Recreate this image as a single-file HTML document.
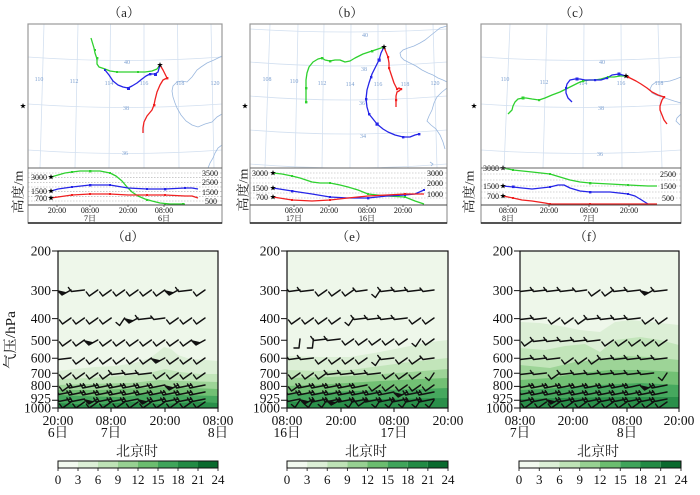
<!DOCTYPE html>
<html><head><meta charset="utf-8">
<style>
html,body{margin:0;padding:0;background:#fff;}
svg{display:block;}
text{font-family:"Liberation Serif","Noto Serif CJK SC","Noto Sans CJK SC",serif;}
.ml{font-family:"Liberation Sans",sans-serif;font-size:6px;fill:#7b9fd0;text-anchor:middle;}
.tl{font-size:8px;fill:#111;}
.ax{font-size:13.5px;fill:#111;}
</style></head><body>
<svg width="700" height="495" viewBox="0 0 700 495" xmlns="http://www.w3.org/2000/svg" xmlns:xlink="http://www.w3.org/1999/xlink">
<defs>
 <clipPath id="ca"><rect x="28" y="24" width="194" height="144"/></clipPath>
 <clipPath id="cb"><rect x="250" y="24" width="197" height="144"/></clipPath>
 <clipPath id="cc"><rect x="481" y="24" width="200" height="144"/></clipPath>
 <clipPath id="cd"><rect x="58" y="251" width="160" height="157"/></clipPath>
 <clipPath id="ce"><rect x="287" y="251" width="161" height="157"/></clipPath>
 <clipPath id="cf"><rect x="520" y="251" width="159" height="157"/></clipPath>
 <path id="C" d="M0,0L-8.5,6L-11.5,2"/>
 <path id="S" d="M0,0L-5,7.5L-8.5,4.5"/>
 <path id="U" d="M0,0L-1,9L-6,9"/>
 <path id="W" d="M0,0L-11,1.5L-14,-2"/>
 <path id="W2" d="M0,0L-13,1.5L-16,-2.5"/>
 <path id="L" d="M0,0L-15,3L-17.5,-1M-12,2.4L-14.5,-1.4"/>
 <path id="K" d="M0,0L-9,5L-13,1L-5,2.8Z" fill="#111"/>
 <path id="st" d="M0,-3L0.7,-1L2.9,-0.9L1.1,0.4L1.8,2.4L0,1.2L-1.8,2.4L-1.1,0.4L-2.9,-0.9L-0.7,-1Z" fill="#000"/>
</defs>

<!-- ================= TITLES ================= -->
<g font-size="13" text-anchor="middle" fill="#222">
 <text x="124" y="17">（a）</text>
 <text x="347" y="17">（b）</text>
 <text x="575" y="17">（c）</text>
 <text x="128" y="241">（d）</text>
 <text x="352" y="241">（e）</text>
 <text x="589" y="241">（f）</text>
</g>

<use href="#st" x="23" y="106"/>
<use href="#st" x="245" y="106"/>
<use href="#st" x="474" y="106"/>

<g font-size="13" text-anchor="middle" fill="#222">
 <text transform="translate(22.5,192) rotate(-90)" textLength="43" lengthAdjust="spacingAndGlyphs">高度/m</text>
 <text transform="translate(247.5,190) rotate(-90)" textLength="43" lengthAdjust="spacingAndGlyphs">高度/m</text>
 <text transform="translate(473.5,192) rotate(-90)" textLength="43" lengthAdjust="spacingAndGlyphs">高度/m</text>
</g>

<!-- ================= PANEL A MAP ================= -->
<g clip-path="url(#ca)" fill="none">
 <g stroke="#d3e0f0" stroke-width="0.8">
  <path d="M44,24L40,168M78,24L75,168M110.5,24L109,168M144,24L144,168M177.5,24L179,168M211,24L214,168"/>
  <path d="M28,57Q125,64 222,57M28,104Q125,111 222,104M28,150Q125,157 222,150"/>
 </g>
 <g stroke="#9bb8de" stroke-width="0.8">
  <path d="M222,56L214,60L207,63L201,67L197,70L192,77L187,82L182,81L177,82L173,86L172,91L173,97L175,103L177,108L181,115L186,121L192,125L198,127L205,124L212,122L217,117L222,114"/>
  <path d="M222,145L218,148L215,153L213,158L210,163L208,168"/>
 </g>
</g>
<g class="ml">
 <text x="127" y="64">40</text><text x="39" y="81">110</text><text x="74" y="83">112</text><text x="109" y="85">114</text><text x="144" y="85">116</text><text x="180" y="85">118</text><text x="215" y="85">120</text><text x="126" y="110">38</text><text x="125" y="155">36</text>
</g>
<g fill="none" stroke-width="1.3" stroke-linejoin="round">
 <polyline stroke="#2ed12e" points="160,65 157,69 152,71 145,72 138,72 128,72 117,72 110,71 105,69 99,67 97,64 97,59 95,53 94,48 91,38"/>
 <polyline stroke="#2525e8" points="160,65 158,72 155,74 150,74 146,76 142,79 137,83 132,86 128,88 123,87 118,85 113,81 109,75 105,70"/>
 <polyline stroke="#f02020" points="160,65 163,70 167,78 163,80 160,85 157,92 155,100 154,105 152,110 147,116 144,122 143,128 143,133"/>
</g>
<g fill="#2ed12e"><rect x="137" y="71" width="2" height="2"/><rect x="116" y="71" width="2" height="2"/><rect x="96" y="57" width="2.4" height="2.4"/><rect x="94" y="49" width="2" height="2"/></g>
<g fill="#2525e8"><rect x="154" y="73" width="3" height="3"/><rect x="149" y="73" width="2.4" height="2.4"/><rect x="127" y="87" width="3" height="3"/><rect x="104" y="69" width="2" height="2"/></g>
<g fill="#f02020"><rect x="166" y="77" width="2.4" height="2.4"/><rect x="153" y="104" width="2.4" height="2.4"/></g>
<use href="#st" x="160" y="65"/>

<!-- ================= PANEL B MAP ================= -->
<g clip-path="url(#cb)" fill="none">
 <g stroke="#d3e0f0" stroke-width="0.8">
  <path d="M270,24L265,168M298,24L295,168M324,24L322,168M351,24L350,168M378,24L378,168M406,24L408,168M433,24L437,168"/>
  <path d="M250,29Q348,35 447,29M250,62Q348,70 447,62M250,96Q348,104 447,96M250,130Q348,138 447,130M250,164Q348,172 447,164"/>
 </g>
 <g stroke="#9bb8de" stroke-width="0.8">
  <path d="M447,26L440,28L435,32L430,36L425,40L420,43L414,46L408,48L403,50L400,53L401,57L404,60L410,63L416,66L422,70L428,73L433,75L438,78L443,80L447,82"/>
  <path d="M447,88L442,92L437,97L434,103L432,110L429,116L427,121L431,125L436,129L440,135L443,142L445,149"/>
  <path d="M430,162L433,164L431,166"/>
 </g>
</g>
<g class="ml">
 <text x="365" y="37">40</text><text x="364" y="71">38</text><text x="362" y="105">36</text><text x="363" y="138">34</text>
 <text x="267" y="81">108</text><text x="294" y="83">110</text><text x="322" y="85">112</text><text x="350" y="86">114</text><text x="378" y="86">116</text><text x="405" y="86">118</text><text x="435" y="85">120</text>
</g>
<g fill="none" stroke-width="1.3" stroke-linejoin="round">
 <polyline stroke="#2ed12e" points="384,47 378,49 372,51 363,54 355,58 350,61 345,62 340,60 335,60 330,61 325,60 322,58 318,59 313,62 309,67 307,73 306,80 306,88 306,95 306,102"/>
 <polyline stroke="#2525e8" points="384,47 381,53 379,60 377,64 375,68 372,74 371,77 369,83 367,90 366,99 367,107 369,114 373,119 377,124 383,129 388,132 395,135 403,137 410,137 415,135 419,134"/>
 <polyline stroke="#f02020" points="384,47 386,52 388,57 389,63 389,68 391,74 392,77 394,83 397,89 399,88 401,89 399,91 397,92 396,96 396,100 396,107"/>
</g>
<g fill="#2ed12e"><rect x="371" y="50" width="2.4" height="2.4"/><rect x="329" y="60" width="2.4" height="2.4"/><rect x="321" y="57" width="2.4" height="2.4"/><rect x="305" y="87" width="2.4" height="2.4"/><rect x="305" y="101" width="2.4" height="2.4"/></g>
<g fill="#2525e8"><rect x="377.5" y="58.5" width="3.2" height="3.2"/><rect x="370" y="76" width="2.4" height="2.4"/><rect x="365" y="98" width="2.4" height="2.4"/><rect x="368" y="113" width="2.4" height="2.4"/><rect x="375.5" y="122.5" width="3.2" height="3.2"/><rect x="402" y="136" width="2.4" height="2.4"/><rect x="418" y="133" width="2.4" height="2.4"/></g>
<g fill="#f02020"><rect x="387" y="56" width="2.2" height="2.2"/><rect x="388" y="67" width="2.2" height="2.2"/><rect x="396" y="88" width="2.2" height="2.2"/><rect x="400" y="88" width="2.2" height="2.2"/><rect x="395" y="99" width="2.2" height="2.2"/></g>
<use href="#st" x="384" y="47"/>

<!-- ================= PANEL C MAP ================= -->
<g clip-path="url(#cc)" fill="none">
 <g stroke="#d3e0f0" stroke-width="0.8">
  <path d="M510,24L504,168M547,24L543,168M584,24L583,168M621,24L622,168M658,24L662,168"/>
  <path d="M481,57Q581,64 681,57M481,104Q581,111 681,104M481,150Q581,157 681,150"/>
 </g>
 <g stroke="#9bb8de" stroke-width="0.8">
  <path d="M681,77L676,79L670,81L663,82L656,82L652,85L650,89L652,93L656,95L662,97L668,99L674,101L681,103"/>
  <path d="M681,114L677,118L676,121L680,125"/>
 </g>
</g>
<g class="ml">
 <text x="602" y="64">40</text><text x="601" y="110">38</text><text x="600" y="156">36</text>
 <text x="505" y="81">110</text><text x="544" y="84">112</text><text x="583" y="85">114</text><text x="621" y="85">116</text><text x="659" y="85">118</text>
</g>
<g fill="none" stroke-width="1.3" stroke-linejoin="round">
 <polyline stroke="#2ed12e" points="626,76 620,76 614,77 608,77 601,79 595,80 589,80 583,81 578,83 572,86 566,89 560,92 552,95 545,98 539,100 532,99 526,98 523,98 518,99 515,102 513,106 512,110 510,112 508,114"/>
 <polyline stroke="#2525e8" points="626,76 619,74 612,75 607,78 601,80 595,80 590,80 585,80 580,79 575,79 570,80 567,84 566,88 566,93 568,98 572,102"/>
 <polyline stroke="#f02020" points="626,76 630,78 636,81 641,84 647,88 652,92 658,95 664,97 662,100 660,106 660,110 662,115 664,120 667,124"/>
</g>
<g fill="#2ed12e"><rect x="607" y="76" width="2.2" height="2.2"/><rect x="582" y="80" width="2.2" height="2.2"/><rect x="538" y="99" width="2.2" height="2.2"/><rect x="521.5" y="96.5" width="3" height="3"/></g>
<g fill="#2525e8"><rect x="617.5" y="72.5" width="3" height="3"/><rect x="606" y="77" width="2.2" height="2.2"/><rect x="594" y="79" width="2.2" height="2.2"/><rect x="575.5" y="77.5" width="3" height="3"/><rect x="565" y="87" width="2.2" height="2.2"/></g>
<g fill="#f02020"><rect x="627" y="76" width="2.2" height="2.2"/><rect x="663" y="96" width="2.2" height="2.2"/></g>
<use href="#st" x="626" y="76"/>

<!-- ================= HEIGHT PANELS ================= -->
<g stroke="#aaa" stroke-width="0.6" stroke-dasharray="1.5,1.5">
 <path d="M28,173H222M28,177.7H222M28,182.3H222M28,187H222M28,191.7H222M28,196.3H222M28,201H222"/>
 <path d="M250,173H447M250,178H447M250,183H447M250,188H447M250,193H447M250,198H447"/>
 <path d="M481,174H681M481,180H681M481,186H681M481,192H681M481,198H681"/>
</g>
<g fill="none" stroke-width="1.3" stroke-linejoin="round">
 <polyline stroke="#2ed12e" points="51,177 58,175 65,173 72,172 80,171 90,171 100,171 110,173 116,176 122,181 127,187 132,192 138,196 145,199 152,201 160,203 170,204 185,204"/>
 <polyline stroke="#2525e8" points="51,191 58,189 65,188 72,187 90,185 110,185 128,188 147,189 165,189 185,188 192,188 198,189"/>
 <polyline stroke="#f02020" points="51,198 58,197 65,196 72,195 90,194 110,194 128,195 147,195 165,195 185,196 192,196 198,198"/>
 <polyline stroke="#2ed12e" points="273,173 282,174 292,176 300,178 312,182 320,183 330,183 340,185 348,187 358,190 368,194 387,196 405,197 410,199 415,201 424,204"/>
 <polyline stroke="#2525e8" points="273,188 292,191 312,194 330,197 348,198 368,198 387,196 405,195 415,194 424,190"/>
 <polyline stroke="#f02020" points="273,197 292,200 312,201 330,200 348,198 368,196 387,195 405,194 424,194"/>
 <polyline stroke="#2ed12e" points="503,168 513,170 532,172 550,174 560,177 570,180 580,182 590,183 610,184 628,185 648,186 657,186"/>
 <polyline stroke="#2525e8" points="503,186 513,187 522,188 532,189 541,188 550,187 558,185 564,185 570,188 580,191 590,192 610,192 628,194 635,196 640,199 648,204"/>
 <polyline stroke="#f02020" points="503,196 513,198 522,200 532,201 545,203 550,204 570,204 590,204 610,204 628,204 657,204"/>
</g>
<g fill="#2ed12e"><rect x="71" y="171" width="2" height="2"/><rect x="89" y="170" width="2.4" height="2.4"/><rect x="109" y="172" width="2" height="2"/><rect x="146" y="199" width="2" height="2"/><rect x="164" y="203" width="2" height="2"/><rect x="182" y="203" width="2" height="2"/>
 <rect x="291" y="175" width="2" height="2"/><rect x="329" y="182" width="2" height="2"/><rect x="367" y="193" width="2" height="2"/><rect x="404" y="196" width="2" height="2"/>
 <rect x="512" y="169" width="2" height="2"/><rect x="549" y="173" width="2" height="2"/><rect x="589" y="182" width="2.4" height="2.4"/><rect x="627" y="184" width="2" height="2"/></g>
<g fill="#2525e8"><rect x="71" y="186" width="2" height="2"/><rect x="89" y="184" width="2.4" height="2.4"/><rect x="109" y="184" width="2" height="2"/><rect x="146" y="188" width="2" height="2"/><rect x="164" y="188" width="2.4" height="2.4"/><rect x="184" y="187" width="2" height="2"/>
 <rect x="291" y="190" width="2.4" height="2.4"/><rect x="329" y="196" width="2" height="2"/><rect x="367" y="197" width="2.4" height="2.4"/><rect x="404" y="194" width="2" height="2"/><rect x="423" y="189" width="2" height="2"/>
 <rect x="512" y="185.5" width="2.6" height="2.6"/><rect x="549" y="186" width="2" height="2"/><rect x="589" y="191" width="2.4" height="2.4"/><rect x="627" y="193" width="2" height="2"/></g>
<g fill="#f02020"><rect x="71" y="194" width="2" height="2"/><rect x="89" y="193" width="2" height="2"/><rect x="109" y="193" width="2" height="2"/><rect x="146" y="194" width="2" height="2"/><rect x="164" y="194" width="2" height="2"/>
 <rect x="291" y="199" width="2" height="2"/><rect x="329" y="199" width="2" height="2"/><rect x="404" y="193" width="2" height="2"/>
 <rect x="512" y="197" width="2" height="2"/><rect x="549" y="203" width="2" height="2"/><rect x="589" y="203" width="2" height="2"/></g>
<g>
 <use href="#st" x="51" y="177"/><use href="#st" x="51" y="191"/><use href="#st" x="51" y="198"/>
 <use href="#st" x="273" y="173"/><use href="#st" x="273" y="188"/><use href="#st" x="273" y="197"/>
 <use href="#st" x="503" y="168"/><use href="#st" x="503" y="186"/><use href="#st" x="503" y="196"/>
</g>

<g class="tl" text-anchor="end">
 <text x="47" y="180">3000</text><text x="47" y="194">1500</text><text x="47" y="201">700</text>
 <text x="268" y="176">3000</text><text x="268" y="191">1500</text><text x="268" y="200">700</text>
 <text x="499" y="171">3000</text><text x="499" y="189">1500</text><text x="499" y="199">700</text>
</g>
<g class="tl" text-anchor="start">
 <text x="202" y="176">3500</text><text x="202" y="185">2500</text><text x="202" y="195">1500</text><text x="205" y="204">500</text>
 <text x="427" y="176">3000</text><text x="427" y="186">2000</text><text x="427" y="197">1000</text>
 <text x="660" y="177">2500</text><text x="660" y="189">1500</text><text x="662" y="201">500</text>
</g>
<g class="tl" text-anchor="middle">
 <text x="57" y="213">20:00</text><text x="90" y="213">08:00</text><text x="128" y="213">20:00</text><text x="164" y="213">08:00</text>
 <text x="90" y="221">7日</text><text x="164" y="221">6日</text>
 <text x="294" y="213">08:00</text><text x="329" y="213">20:00</text><text x="367" y="213">08:00</text><text x="403" y="213">20:00</text>
 <text x="294" y="221">17日</text><text x="367" y="221">16日</text>
 <text x="508" y="213">08:00</text><text x="549" y="213">20:00</text><text x="589" y="213">08:00</text><text x="629" y="213">20:00</text>
 <text x="508" y="221">8日</text><text x="589" y="221">7日</text>
</g>

<g fill="none">
 <rect x="28" y="24" width="194" height="199" stroke="#999" stroke-width="1.2"/>
 <rect x="250" y="24" width="197" height="199" stroke="#999" stroke-width="1.2"/>
 <rect x="481" y="24" width="200" height="199" stroke="#999" stroke-width="1.2"/>
 <path d="M28,168H222M250,168H447M481,168H681" stroke="#666" stroke-width="1"/>
 <path d="M28,205H222M250,205H447M481,205H681" stroke="#444" stroke-width="1"/>
 <path d="M28,223H222M250,223H447M481,223H681" stroke="#222" stroke-width="1.4"/>
 <path d="M57,205v2M90,205v2M128,205v2M164,205v2M294,205v2M329,205v2M367,205v2M403,205v2M508,205v2M549,205v2M589,205v2M629,205v2" stroke="#444" stroke-width="0.8"/>
</g>

<!-- ================= PANEL D ================= -->
<g clip-path="url(#cd)">
 <rect x="58" y="251" width="160" height="157" fill="#eef7ea"/>
 <path fill="#dcefd6" d="M58,408L58,371L75,369L95,367L115,366L135,363L150,358L158,352L164,347L171,349L178,355L190,359L205,360L218,361L218,408Z"/>
 <path fill="#c2e5ba" d="M58,408L58,379L90,378L120,376L145,374L165,369L180,372L200,374L218,374L218,408Z"/>
 <path fill="#9dd497" d="M58,408L58,385L90,384L130,383L160,380L180,381L218,382L218,408Z"/>
 <path fill="#72c074" d="M58,408L58,390L100,390L140,388L170,387L218,389L218,408Z"/>
 <path fill="#46a85e" d="M58,408L58,395L80,396L120,397L150,394L180,395L218,396L218,408Z"/>
 <path fill="#2a8f4a" d="M58,408L58,403L90,405L130,402L160,404L200,402L218,403L218,408Z"/>
 <g stroke="#111" stroke-width="1.45" fill="none" stroke-linejoin="round" stroke-linecap="round">
  <g transform="translate(0,290)"><use href="#K" x="71"/><use href="#W2" x="84.4"/><use href="#C" x="97.8"/><use href="#C" x="111.2"/><use href="#C" x="124.6"/><use href="#C" x="138"/><use href="#C" x="151.4"/><use href="#C" x="164.8"/><use href="#K" x="178.2"/><use href="#W2" x="191.6"/><use href="#C" x="205"/></g>
  <g transform="translate(0,318)"><use href="#C" x="71"/><use href="#C" x="84.4"/><use href="#C" x="97.8"/><use href="#C" x="111.2"/><use href="#S" x="124.6"/><use href="#K" x="138"/><use href="#W2" x="151.4"/><use href="#W" x="164.8"/><use href="#C" x="178.2"/><use href="#C" x="191.6"/><use href="#C" x="205"/></g>
  <g transform="translate(0,340)"><use href="#C" x="71"/><use href="#C" x="84.4"/><use href="#K" x="97.8"/><use href="#C" x="111.2"/><use href="#C" x="124.6"/><use href="#C" x="138"/><use href="#C" x="151.4"/><use href="#C" x="164.8"/><use href="#C" x="178.2"/><use href="#C" x="191.6"/><use href="#K" x="205"/></g>
  <g transform="translate(0,358)"><use href="#W2" x="71"/><use href="#C" x="84.4"/><use href="#C" x="97.8"/><use href="#C" x="111.2"/><use href="#C" x="124.6"/><use href="#C" x="138"/><use href="#C" x="151.4"/><use href="#K" x="164.8"/><use href="#C" x="178.2"/><use href="#C" x="191.6"/><use href="#C" x="205"/></g>
  <g transform="translate(0,373)"><use href="#C" x="71"/><use href="#C" x="84.4"/><use href="#C" x="97.8"/><use href="#C" x="111.2"/><use href="#W2" x="124.6"/><use href="#W2" x="138"/><use href="#W2" x="151.4"/><use href="#C" x="164.8"/><use href="#C" x="178.2"/><use href="#C" x="191.6"/><use href="#C" x="205"/></g>
  <g transform="translate(0,385)"><use href="#C" x="71"/><use href="#L" x="84.4"/><use href="#L" x="97.8"/><use href="#L" x="111.2"/><use href="#L" x="124.6"/><use href="#L" x="138"/><use href="#L" x="151.4"/><use href="#L" x="164.8"/><use href="#K" x="178.2"/><use href="#L" x="191.6"/><use href="#L" x="205"/></g>
  <g transform="translate(0,392)"><use href="#L" x="71"/><use href="#L" x="84.4"/><use href="#L" x="97.8"/><use href="#L" x="111.2"/><use href="#L" x="124.6"/><use href="#L" x="138"/><use href="#L" x="151.4"/><use href="#L" x="164.8"/><use href="#L" x="178.2"/><use href="#L" x="191.6"/><use href="#L" x="205"/></g>
  <g transform="translate(0,399)"><use href="#L" x="71"/><use href="#L" x="84.4"/><use href="#K" x="97.8"/><use href="#L" x="111.2"/><use href="#L" x="124.6"/><use href="#L" x="138"/><use href="#K" x="151.4"/><use href="#L" x="164.8"/><use href="#L" x="178.2"/><use href="#L" x="191.6"/><use href="#L" x="205"/></g>
  <g transform="translate(0,402)"><use href="#C" x="71"/><use href="#C" x="84.4"/><use href="#C" x="97.8"/><use href="#C" x="111.2"/><use href="#C" x="124.6"/><use href="#C" x="138"/><use href="#C" x="151.4"/><use href="#C" x="164.8"/><use href="#C" x="178.2"/><use href="#C" x="191.6"/><use href="#C" x="205"/></g>
 </g>
</g>
<rect x="58" y="251" width="160" height="157" fill="none" stroke="#111" stroke-width="1.2"/>

<!-- ================= PANEL E ================= -->
<g clip-path="url(#ce)">
 <rect x="287" y="251" width="161" height="157" fill="#eef7ea"/>
 <path fill="#dcefd6" d="M287,408L287,356L320,357L350,357L380,352L410,346L430,342L448,340L448,408Z"/>
 <path fill="#c2e5ba" d="M287,408L287,370L320,371L350,370L380,366L410,362L448,358L448,408Z"/>
 <path fill="#9dd497" d="M287,408L287,378L330,377L370,375L410,372L448,369L448,408Z"/>
 <path fill="#72c074" d="M287,408L287,386L330,384L380,381L420,379L448,378L448,408Z"/>
 <path fill="#46a85e" d="M287,408L287,394L330,392L380,390L420,389L448,388L448,408Z"/>
 <path fill="#2a8f4a" d="M287,408L287,402L330,401L380,399L448,398L448,408Z"/>
 <g stroke="#111" stroke-width="1.45" fill="none" stroke-linejoin="round" stroke-linecap="round">
  <g transform="translate(0,290)"><use href="#W" x="300"/><use href="#W2" x="313.4"/><use href="#C" x="326.8"/><use href="#C" x="340.2"/><use href="#C" x="353.6"/><use href="#W" x="367"/><use href="#S" x="380.4"/><use href="#W2" x="393.8"/><use href="#W2" x="407.2"/><use href="#W2" x="420.6"/><use href="#W" x="434"/></g>
  <g transform="translate(0,318)"><use href="#C" x="300"/><use href="#C" x="313.4"/><use href="#C" x="326.8"/><use href="#C" x="340.2"/><use href="#S" x="353.6"/><use href="#W2" x="367"/><use href="#W2" x="380.4"/><use href="#W2" x="393.8"/><use href="#W2" x="407.2"/><use href="#C" x="420.6"/><use href="#C" x="434"/></g>
  <g transform="translate(0,339)"><use href="#U" x="300"/><use href="#U" x="313.4"/><use href="#W2" x="326.8"/><use href="#W2" x="340.2"/><use href="#C" x="353.6"/><use href="#C" x="367"/><use href="#C" x="380.4"/><use href="#C" x="393.8"/><use href="#C" x="407.2"/><use href="#S" x="420.6"/><use href="#C" x="434"/></g>
  <g transform="translate(0,358)"><use href="#W" x="300"/><use href="#W2" x="313.4"/><use href="#C" x="326.8"/><use href="#C" x="340.2"/><use href="#C" x="353.6"/><use href="#C" x="367"/><use href="#S" x="380.4"/><use href="#W2" x="393.8"/><use href="#C" x="407.2"/><use href="#C" x="420.6"/><use href="#W" x="434"/></g>
  <g transform="translate(0,373)"><use href="#C" x="300"/><use href="#C" x="313.4"/><use href="#C" x="326.8"/><use href="#W2" x="340.2"/><use href="#W2" x="353.6"/><use href="#W2" x="367"/><use href="#W2" x="380.4"/><use href="#C" x="393.8"/><use href="#C" x="407.2"/><use href="#C" x="420.6"/><use href="#S" x="434"/></g>
  <g transform="translate(0,385)"><use href="#C" x="300"/><use href="#L" x="313.4"/><use href="#L" x="326.8"/><use href="#L" x="340.2"/><use href="#L" x="353.6"/><use href="#L" x="367"/><use href="#C" x="380.4"/><use href="#C" x="393.8"/><use href="#C" x="407.2"/><use href="#C" x="420.6"/><use href="#C" x="434"/></g>
  <g transform="translate(0,392)"><use href="#L" x="300"/><use href="#L" x="313.4"/><use href="#L" x="326.8"/><use href="#L" x="340.2"/><use href="#L" x="353.6"/><use href="#L" x="367"/><use href="#L" x="380.4"/><use href="#L" x="393.8"/><use href="#K" x="407.2"/><use href="#L" x="420.6"/><use href="#L" x="434"/></g>
  <g transform="translate(0,399)"><use href="#L" x="300"/><use href="#K" x="313.4"/><use href="#L" x="326.8"/><use href="#L" x="340.2"/><use href="#L" x="353.6"/><use href="#L" x="367"/><use href="#L" x="380.4"/><use href="#L" x="393.8"/><use href="#L" x="407.2"/><use href="#L" x="420.6"/><use href="#L" x="434"/></g>
  <g transform="translate(0,400)"><use href="#S" x="300"/><use href="#S" x="313.4"/><use href="#S" x="326.8"/><use href="#K" x="340.2"/><use href="#S" x="353.6"/><use href="#C" x="367"/><use href="#S" x="380.4"/><use href="#S" x="393.8"/><use href="#S" x="407.2"/><use href="#S" x="420.6"/><use href="#S" x="434"/></g>
 </g>
</g>
<rect x="287" y="251" width="161" height="157" fill="none" stroke="#111" stroke-width="1.2"/>

<!-- ================= PANEL F ================= -->
<g clip-path="url(#cf)">
 <rect x="520" y="251" width="159" height="157" fill="#eef7ea"/>
 <path fill="#dcefd6" d="M520,408L520,322L540,323L560,326L580,330L600,332L615,322L630,320L650,322L679,325L679,408Z"/>
 <path fill="#c2e5ba" d="M520,408L520,348L545,350L565,346L585,344L600,352L615,340L640,337L660,340L679,345L679,408Z"/>
 <path fill="#9dd497" d="M520,408L520,365L550,368L575,362L600,360L625,356L650,357L679,360L679,408Z"/>
 <path fill="#72c074" d="M520,408L520,380L550,378L580,373L610,370L640,370L679,372L679,408Z"/>
 <path fill="#46a85e" d="M520,408L520,390L560,388L600,385L640,383L679,385L679,408Z"/>
 <path fill="#2a8f4a" d="M520,408L520,399L560,398L620,397L679,397L679,408Z"/>
 <g stroke="#111" stroke-width="1.45" fill="none" stroke-linejoin="round" stroke-linecap="round">
  <g transform="translate(0,290)"><use href="#W2" x="533"/><use href="#W2" x="546.4"/><use href="#W2" x="559.8"/><use href="#W2" x="573.2"/><use href="#W" x="586.6"/><use href="#C" x="600"/><use href="#C" x="613.4"/><use href="#W2" x="626.8"/><use href="#W2" x="640.2"/><use href="#K" x="653.6"/><use href="#W2" x="667"/></g>
  <g transform="translate(0,318)"><use href="#W2" x="533"/><use href="#W2" x="546.4"/><use href="#C" x="559.8"/><use href="#C" x="573.2"/><use href="#C" x="586.6"/><use href="#W2" x="600"/><use href="#W2" x="613.4"/><use href="#W2" x="626.8"/><use href="#W2" x="640.2"/><use href="#C" x="653.6"/><use href="#C" x="667"/></g>
  <g transform="translate(0,340)"><use href="#C" x="533"/><use href="#W2" x="546.4"/><use href="#W2" x="559.8"/><use href="#W2" x="573.2"/><use href="#W2" x="586.6"/><use href="#W2" x="600"/><use href="#C" x="613.4"/><use href="#C" x="626.8"/><use href="#C" x="640.2"/><use href="#C" x="653.6"/><use href="#C" x="667"/></g>
  <g transform="translate(0,358)"><use href="#W2" x="533"/><use href="#W2" x="546.4"/><use href="#W2" x="559.8"/><use href="#C" x="573.2"/><use href="#C" x="586.6"/><use href="#C" x="600"/><use href="#W2" x="613.4"/><use href="#W2" x="626.8"/><use href="#W2" x="640.2"/><use href="#W2" x="653.6"/><use href="#W2" x="667"/></g>
  <g transform="translate(0,373)"><use href="#W2" x="533"/><use href="#W2" x="546.4"/><use href="#C" x="559.8"/><use href="#W2" x="573.2"/><use href="#W2" x="586.6"/><use href="#W2" x="600"/><use href="#W2" x="613.4"/><use href="#W2" x="626.8"/><use href="#W2" x="640.2"/><use href="#W2" x="653.6"/><use href="#S" x="667"/></g>
  <g transform="translate(0,385)"><use href="#L" x="533"/><use href="#L" x="546.4"/><use href="#L" x="559.8"/><use href="#L" x="573.2"/><use href="#L" x="586.6"/><use href="#L" x="600"/><use href="#L" x="613.4"/><use href="#L" x="626.8"/><use href="#L" x="640.2"/><use href="#K" x="653.6"/><use href="#L" x="667"/></g>
  <g transform="translate(0,392)"><use href="#L" x="533"/><use href="#L" x="546.4"/><use href="#L" x="559.8"/><use href="#L" x="573.2"/><use href="#L" x="586.6"/><use href="#L" x="600"/><use href="#L" x="613.4"/><use href="#L" x="626.8"/><use href="#L" x="640.2"/><use href="#L" x="653.6"/><use href="#L" x="667"/></g>
  <g transform="translate(0,399)"><use href="#L" x="533"/><use href="#L" x="546.4"/><use href="#K" x="559.8"/><use href="#L" x="573.2"/><use href="#L" x="586.6"/><use href="#L" x="600"/><use href="#L" x="613.4"/><use href="#L" x="626.8"/><use href="#L" x="640.2"/><use href="#L" x="653.6"/><use href="#L" x="667"/></g>
  <g transform="translate(0,402)"><use href="#C" x="533"/><use href="#C" x="546.4"/><use href="#C" x="559.8"/><use href="#C" x="573.2"/><use href="#C" x="586.6"/><use href="#C" x="600"/><use href="#C" x="613.4"/><use href="#C" x="626.8"/><use href="#C" x="640.2"/><use href="#C" x="653.6"/><use href="#C" x="667"/></g>
 </g>
</g>
<rect x="520" y="251" width="159" height="157" fill="none" stroke="#111" stroke-width="1.2"/>

<!-- ================= BOTTOM AXES TICKS & LABELS ================= -->
<g stroke="#111" stroke-width="1">
 <path d="M52,251H58M52,290.6H58M52,318.6H58M52,340.3H58M52,358.2H58M52,373.3H58M52,386.4H58M52,400.2H58M52,408H58"/>
 <path d="M281,251H287M281,290.6H287M281,318.6H287M281,340.3H287M281,358.2H287M281,373.3H287M281,386.4H287M281,400.2H287M281,408H287"/>
 <path d="M514,251H520M514,290.6H520M514,318.6H520M514,340.3H520M514,358.2H520M514,373.3H520M514,386.4H520M514,400.2H520M514,408H520"/>
 <path d="M58,408V412M111,408V412M165,408V412M218,408V412M287,408V412M341,408V412M394,408V412M448,408V412M520,408V412M573,408V412M627,408V412M679,408V412"/>
</g>
<g class="ax" text-anchor="end">
 <text x="51" y="255.5">200</text><text x="51" y="295">300</text><text x="51" y="323">400</text><text x="51" y="344.8">500</text><text x="51" y="362.7">600</text><text x="51" y="377.8">700</text><text x="51" y="390">800</text><text x="51" y="403">925</text><text x="51" y="412.5">1000</text>
 <text x="280" y="255.5">200</text><text x="280" y="295">300</text><text x="280" y="323">400</text><text x="280" y="344.8">500</text><text x="280" y="362.7">600</text><text x="280" y="377.8">700</text><text x="280" y="390">800</text><text x="280" y="403">925</text><text x="280" y="412.5">1000</text>
 <text x="513" y="255.5">200</text><text x="513" y="295">300</text><text x="513" y="323">400</text><text x="513" y="344.8">500</text><text x="513" y="362.7">600</text><text x="513" y="377.8">700</text><text x="513" y="390">800</text><text x="513" y="403">925</text><text x="513" y="412.5">1000</text>
</g>
<g class="ax" text-anchor="middle">
 <text x="58" y="425">20:00</text><text x="111" y="425">08:00</text><text x="165" y="425">20:00</text><text x="218" y="425">08:00</text>
 <text x="58" y="437">6日</text><text x="111" y="437">7日</text><text x="218" y="437">8日</text>
 <text x="287" y="425">08:00</text><text x="341" y="425">20:00</text><text x="394" y="425">08:00</text><text x="448" y="425">20:00</text>
 <text x="287" y="437">16日</text><text x="394" y="437">17日</text>
 <text x="520" y="425">08:00</text><text x="573" y="425">20:00</text><text x="627" y="425">08:00</text><text x="679" y="425">20:00</text>
 <text x="520" y="437">7日</text><text x="627" y="437">8日</text>
</g>
<text transform="translate(15,340) rotate(-90)" font-size="14" text-anchor="middle" fill="#111" textLength="58" lengthAdjust="spacingAndGlyphs">气压/hPa</text>

<!-- ================= COLORBARS ================= -->
<g>
 <g transform="translate(58,461)">
  <rect x="0" y="0" width="20" height="7" fill="#f2f9ef"/><rect x="20" y="0" width="20" height="7" fill="#dcefd6"/><rect x="40" y="0" width="20" height="7" fill="#bee3b6"/><rect x="60" y="0" width="20" height="7" fill="#97d192"/><rect x="80" y="0" width="20" height="7" fill="#6bbd6f"/><rect x="100" y="0" width="20" height="7" fill="#3fa45a"/><rect x="120" y="0" width="20" height="7" fill="#228a44"/><rect x="140" y="0" width="20" height="7" fill="#0a6a2e"/>
  <rect x="0" y="0" width="160" height="7" fill="none" stroke="#111" stroke-width="1"/>
  <path d="M0,7v3M20,7v3M40,7v3M60,7v3M80,7v3M100,7v3M120,7v3M140,7v3M160,7v3" stroke="#111" stroke-width="0.8"/>
 </g>
 <g transform="translate(287,461) scale(1.00625,1)">
  <rect x="0" y="0" width="20" height="7" fill="#f2f9ef"/><rect x="20" y="0" width="20" height="7" fill="#dcefd6"/><rect x="40" y="0" width="20" height="7" fill="#bee3b6"/><rect x="60" y="0" width="20" height="7" fill="#97d192"/><rect x="80" y="0" width="20" height="7" fill="#6bbd6f"/><rect x="100" y="0" width="20" height="7" fill="#3fa45a"/><rect x="120" y="0" width="20" height="7" fill="#228a44"/><rect x="140" y="0" width="20" height="7" fill="#0a6a2e"/>
  <rect x="0" y="0" width="160" height="7" fill="none" stroke="#111" stroke-width="1"/>
  <path d="M0,7v3M20,7v3M40,7v3M60,7v3M80,7v3M100,7v3M120,7v3M140,7v3M160,7v3" stroke="#111" stroke-width="0.8"/>
 </g>
 <g transform="translate(519,461) scale(1.0125,1)">
  <rect x="0" y="0" width="20" height="7" fill="#f2f9ef"/><rect x="20" y="0" width="20" height="7" fill="#dcefd6"/><rect x="40" y="0" width="20" height="7" fill="#bee3b6"/><rect x="60" y="0" width="20" height="7" fill="#97d192"/><rect x="80" y="0" width="20" height="7" fill="#6bbd6f"/><rect x="100" y="0" width="20" height="7" fill="#3fa45a"/><rect x="120" y="0" width="20" height="7" fill="#228a44"/><rect x="140" y="0" width="20" height="7" fill="#0a6a2e"/>
  <rect x="0" y="0" width="160" height="7" fill="none" stroke="#111" stroke-width="1"/>
  <path d="M0,7v3M20,7v3M40,7v3M60,7v3M80,7v3M100,7v3M120,7v3M140,7v3M160,7v3" stroke="#111" stroke-width="0.8"/>
 </g>
</g>
<g font-size="14" text-anchor="middle" fill="#222">
 <text x="137" y="456">北京时</text>
 <text x="366" y="456">北京时</text>
 <text x="598" y="456">北京时</text>
</g>
<g font-size="13" text-anchor="middle" fill="#111">
 <text x="58" y="484">0</text><text x="78" y="484">3</text><text x="98" y="484">6</text><text x="118" y="484">9</text><text x="138" y="484">12</text><text x="158" y="484">15</text><text x="178" y="484">18</text><text x="198" y="484">21</text><text x="218" y="484">24</text>
 <text x="287" y="484">0</text><text x="307.1" y="484">3</text><text x="327.2" y="484">6</text><text x="347.4" y="484">9</text><text x="367.5" y="484">12</text><text x="387.6" y="484">15</text><text x="407.7" y="484">18</text><text x="427.9" y="484">21</text><text x="448" y="484">24</text>
 <text x="519" y="484">0</text><text x="539.3" y="484">3</text><text x="559.5" y="484">6</text><text x="579.8" y="484">9</text><text x="600" y="484">12</text><text x="620.3" y="484">15</text><text x="640.5" y="484">18</text><text x="660.8" y="484">21</text><text x="681" y="484">24</text>
</g>
</svg>
</body></html>
